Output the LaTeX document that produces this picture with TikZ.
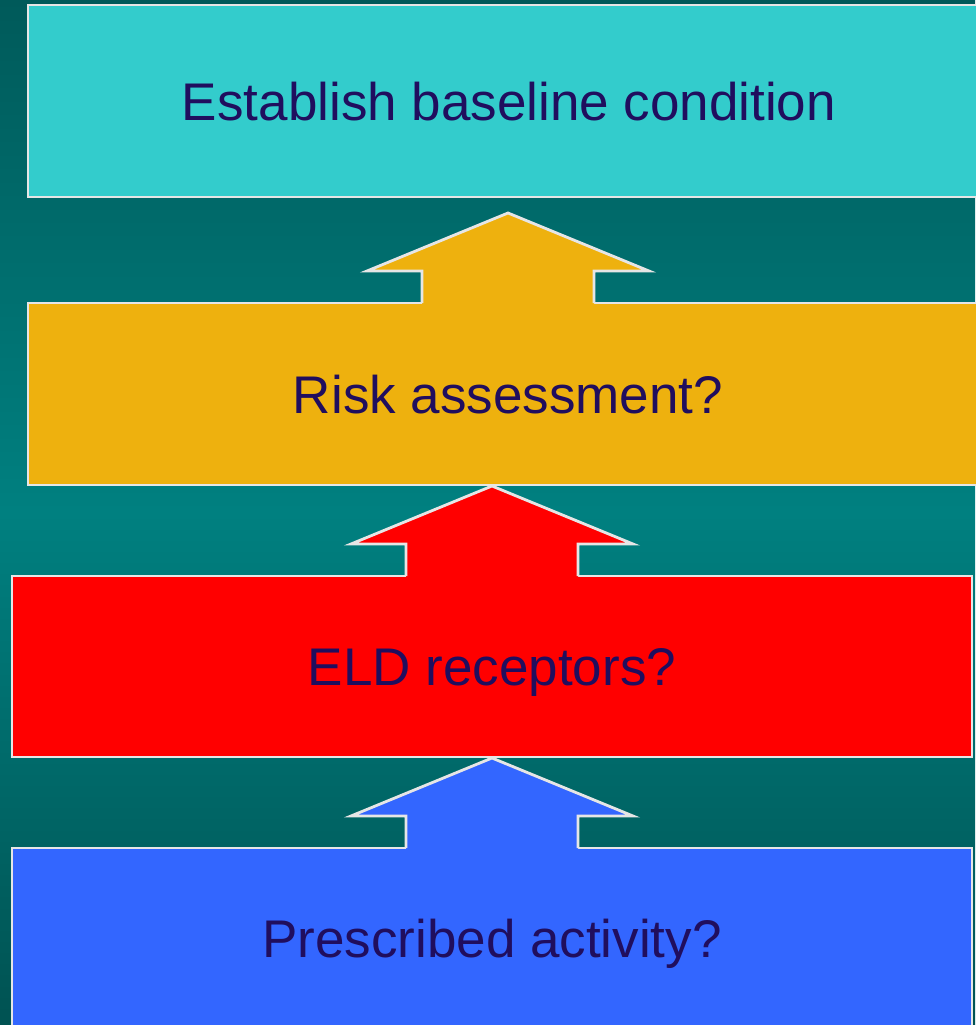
\documentclass[tikz,border=0pt]{standalone}
\usepackage{fontspec}
\setmainfont{Liberation Sans}
\usetikzlibrary{calc}
\definecolor{bgtop}{RGB}{0,90,90}
\definecolor{bgmid}{RGB}{0,128,128}
\definecolor{bgbot}{RGB}{0,82,82}
\definecolor{rim}{RGB}{230,230,230}
\definecolor{ink}{RGB}{32,14,94}
\definecolor{cyanbox}{RGB}{51,204,204}
\definecolor{goldbox}{RGB}{238,177,14}
\definecolor{redbox}{RGB}{255,0,0}
\definecolor{bluebox}{RGB}{51,102,255}
\begin{document}
\begin{tikzpicture}[x=1pt,y=-1pt,
	box/.style={rectangle, draw=rim, line width=2.8pt, inner sep=0pt, outer sep=0pt, minimum width=960pt, text=ink, font=\fontsize{53}{60}\selectfont, text height=38pt, text depth=0pt},
	rimline/.style={draw=rim, line width=2.8pt}]
	\useasboundingbox (0,0) rectangle (975,1025);
	\shade[top color=bgtop, bottom color=bgbot, middle color=bgmid] (0,0) rectangle (975,1025);
	\node (baseline) at (509, 101)	[box, fill=cyanbox, minimum width=962pt, minimum height=192pt]	{Establish baseline condition};
	\node (risk) at (508, 394)	[box, fill=goldbox, minimum height=182pt]	{Risk assessment?};
	\node (eld) at (492, 666.5)	[box, fill=redbox, minimum height=181pt]	{ELD receptors?};
	\node (activity) at (492, 938)	[box, fill=bluebox, minimum height=180pt]	{Prescribed activity?};
	% up arrows standing on each lower box
	\foreach \low/\col in {risk/goldbox, eld/redbox, activity/bluebox} {
		\fill[\col] ($(\low.north)+(-86,2)$) -- ++(0,-34) -- ++(-55,0) -- ++(141,-58) -- ++(141,58) -- ++(-55,0) -- ++(0,34) -- cycle;
		\draw[rimline] ($(\low.north)+(-86,0)$) -- ++(0,-32) -- ++(-55,0) -- ++(141,-58) -- ++(141,58) -- ++(-55,0) -- ++(0,32);
	}
\end{tikzpicture}
\end{document}
